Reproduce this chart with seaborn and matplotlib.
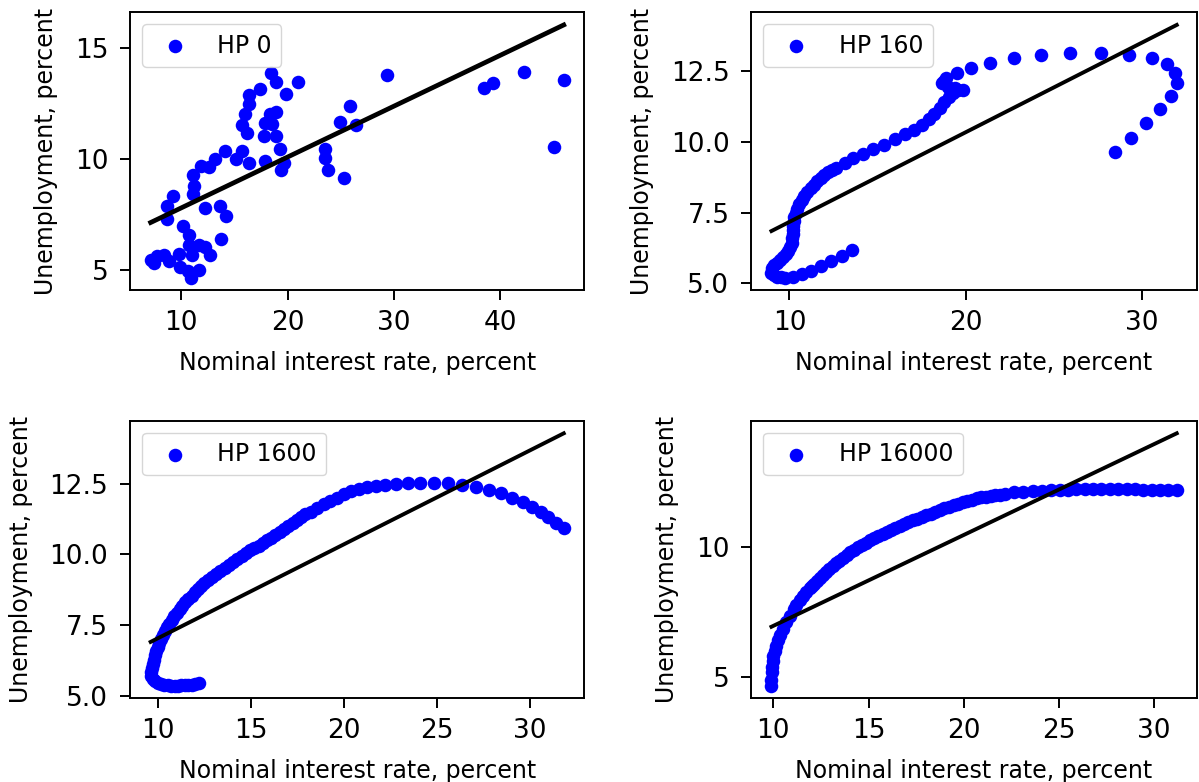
import matplotlib
matplotlib.use("Agg")
import matplotlib.pyplot as plt
import seaborn as sns
import numpy as np
from matplotlib.ticker import MultipleLocator

# ---------------- data ----------------
labels = ["HP 0", "HP 160", "HP 1600", "HP 16000"]

hp0_rate = [18.44, 18.89, 20.98, 17.42, 16.42, 19.89, 16.39, 16.04, 18.93, 18.35,
            15.69, 17.93, 18.50, 16.17, 17.75, 18.93, 19.26, 14.15, 15.69, 15.18,
            16.42, 17.90, 19.70, 19.41, 13.19, 12.62, 11.85, 11.15, 11.20, 11.15,
            9.20, 8.66, 8.66, 12.22, 13.63, 14.24, 10.17, 10.72, 13.70, 10.72,
            11.71, 12.26, 12.68, 10.98, 9.76, 8.41, 7.77, 7.13, 7.45, 8.89,
            9.91, 10.65, 10.91, 11.71, 29.35, 25.91, 24.92, 26.46, 23.54, 23.54,
            23.83, 25.27, 38.44, 39.34, 42.27, 45.98, 45.03]
hp0_unemp = [13.86, 13.45, 13.49, 13.16, 12.88, 12.91, 12.47, 12.01, 12.13, 12.01,
             11.55, 11.63, 11.58, 11.17, 11.02, 11.02, 10.46, 10.38, 10.36, 10.00,
             9.83, 9.92, 9.83, 9.50, 10.00, 9.63, 9.68, 9.30, 8.78, 8.43,
             8.32, 7.87, 7.32, 7.81, 7.87, 7.44, 6.99, 6.60, 6.42, 6.15,
             6.15, 6.04, 5.66, 5.66, 5.74, 5.66, 5.62, 5.46, 5.31, 5.39,
             5.16, 4.98, 4.66, 5.00, 13.77, 12.39, 11.67, 11.52, 10.46, 10.06,
             9.51, 9.15, 13.22, 13.44, 13.91, 13.56, 10.55]

hp160_rate = [28.47, 29.36, 30.22, 31.03, 31.64, 31.98, 31.88, 31.45, 30.55, 29.27,
              27.66, 25.94, 24.27, 22.72, 21.39, 20.31, 19.52, 18.91, 18.63, 18.75,
              19.00, 19.40, 19.14, 19.56, 19.86, 19.29, 19.04, 18.80, 18.53, 18.23,
              17.91, 17.53, 17.05, 16.58, 16.00, 15.37, 14.77, 14.18, 13.63, 13.16,
              12.66, 12.42, 12.19, 11.98, 11.77, 11.58, 11.39, 11.20, 11.01, 10.85,
              10.69, 10.55, 10.44, 10.35, 10.27, 10.24, 10.22, 10.21, 10.20, 10.17,
              10.12, 10.05, 9.93, 9.80, 9.62, 9.45, 9.30, 9.15, 9.02, 8.98,
              9.10, 9.30, 9.50, 9.74, 10.20, 10.69, 11.24, 11.77, 12.34, 12.97, 13.57]
hp160_unemp = [9.64, 10.14, 10.65, 11.14, 11.61, 12.06, 12.44, 12.73, 12.95, 13.07,
               13.12, 13.12, 13.07, 12.95, 12.78, 12.60, 12.42, 12.27, 12.06, 12.15,
               11.95, 11.90, 11.87, 11.82, 11.84, 11.72, 11.58, 11.40, 11.20, 10.98,
               10.80, 10.60, 10.42, 10.27, 10.10, 9.90, 9.75, 9.57, 9.42, 9.24,
               9.09, 9.00, 8.92, 8.83, 8.73, 8.62, 8.49, 8.37, 8.23, 8.10,
               7.93, 7.80, 7.63, 7.50, 7.34, 7.20, 7.04, 6.90, 6.74, 6.60,
               6.44, 6.30, 6.14, 6.03, 5.92, 5.82, 5.72, 5.63, 5.54, 5.36,
               5.30, 5.24, 5.22, 5.20, 5.24, 5.34, 5.44, 5.60, 5.78, 5.96, 6.16]

hp1600_rate = [12.19, 11.95, 11.79, 11.60, 11.42, 11.24, 11.06, 10.88, 10.69, 10.51,
               10.33, 10.15, 9.96, 9.81, 9.69, 9.62, 9.59, 9.64, 9.69, 9.75,
               9.81, 9.88, 9.96, 10.05, 10.14, 10.25, 10.36, 10.48, 10.60, 10.73,
               10.87, 11.00, 11.15, 11.30, 11.46, 11.62, 11.79, 11.95, 12.12, 12.30,
               12.48, 12.68, 12.88, 13.11, 13.34, 13.57, 13.80, 14.02, 14.25, 14.48,
               14.71, 14.94, 15.17, 15.40, 15.62, 15.85, 16.08, 16.30, 16.53, 16.76,
               16.99, 17.22, 17.45, 17.68, 17.90, 18.20, 18.56, 18.93, 19.26, 19.62,
               19.98, 20.39, 20.79, 21.22, 21.70, 22.21, 22.78, 23.42, 24.10, 24.83,
               25.59, 26.34, 27.07, 27.79, 28.46, 29.05, 29.62, 30.10, 30.56, 30.97,
               31.40, 31.81]
hp1600_unemp = [5.43, 5.40, 5.38, 5.37, 5.37, 5.36, 5.35, 5.35, 5.35, 5.36,
                5.37, 5.40, 5.44, 5.50, 5.58, 5.70, 5.82, 5.97, 6.12, 6.27,
                6.42, 6.57, 6.71, 6.86, 7.01, 7.14, 7.27, 7.41, 7.55, 7.68,
                7.81, 7.94, 8.06, 8.18, 8.30, 8.42, 8.54, 8.66, 8.77, 8.88,
                8.98, 9.09, 9.20, 9.31, 9.42, 9.53, 9.63, 9.74, 9.84, 9.95,
                10.05, 10.14, 10.22, 10.31, 10.40, 10.49, 10.58, 10.69, 10.79, 10.90,
                11.00, 11.10, 11.20, 11.31, 11.42, 11.50, 11.63, 11.77, 11.89, 12.01,
                12.13, 12.23, 12.30, 12.37, 12.43, 12.46, 12.49, 12.51, 12.54, 12.54,
                12.51, 12.46, 12.39, 12.27, 12.17, 12.01, 11.86, 11.68, 11.50, 11.32,
                11.12, 10.94]

hp16000_rate = [9.90, 9.90, 9.91, 9.93, 9.96, 10.00, 10.06, 10.14, 10.24, 10.37,
                10.52, 10.69, 10.88, 11.09, 11.21, 11.40, 11.57, 11.74, 11.91, 12.02,
                12.13, 12.28, 12.44, 12.60, 12.77, 12.94, 13.11, 13.29, 13.47, 13.66,
                13.85, 14.05, 14.25, 14.45, 14.66, 14.87,
                15.08, 15.30, 15.52, 15.74, 15.96, 16.18, 16.41, 16.64, 16.87, 17.10,
                17.33, 17.56, 17.80, 18.03, 18.27, 18.51, 18.75, 18.99, 19.23, 19.47,
                19.71, 19.95, 20.20, 20.44, 20.69, 20.93, 21.18, 21.42, 21.67, 21.91,
                22.16, 22.65, 23.14, 23.63, 24.12, 24.60, 25.04, 25.48, 25.92, 26.36,
                26.80, 27.24, 27.68, 28.12, 28.56, 29.00, 29.44, 29.88, 30.32, 30.76,
                31.20]
hp16000_unemp = [4.67, 4.90, 5.18, 5.40, 5.62, 5.82, 6.00, 6.20, 6.42, 6.63,
                 6.86, 7.11, 7.35, 7.61, 7.76, 7.95, 8.12, 8.27, 8.40, 8.48,
                 8.56, 8.68, 8.79, 8.92, 9.04, 9.15, 9.26, 9.37, 9.47, 9.58,
                 9.69, 9.79, 9.88, 9.97, 10.06, 10.16,
                 10.25, 10.34, 10.42, 10.50, 10.58, 10.66, 10.73, 10.80, 10.87, 10.94,
                 11.01, 11.08, 11.14, 11.20, 11.27, 11.34, 11.41, 11.47, 11.53, 11.59,
                 11.64, 11.70, 11.76, 11.81, 11.85, 11.89, 11.92, 11.95, 11.98, 12.00,
                 12.03, 12.08, 12.11, 12.13, 12.15, 12.17, 12.18, 12.19, 12.20, 12.20,
                 12.20, 12.20, 12.20, 12.20, 12.20, 12.20, 12.19, 12.19, 12.19, 12.18,
                 12.18]

# least-squares line: unemployment = intercept + slope * rate
fit_slope = [0.229, 0.3165, 0.3323, 0.3483]
fit_intercept = [5.51, 4.005, 3.713, 3.482]

x_tick_step = [10, 10, 5, 5]
y_tick_step = [5, 2.5, 2.5, 5]

series = [(hp0_rate, hp0_unemp), (hp160_rate, hp160_unemp),
          (hp1600_rate, hp1600_unemp), (hp16000_rate, hp16000_unemp)]

# ---------------- figure ----------------
W, H = 1199, 782
fig = plt.figure(figsize=(W / 100, H / 100), dpi=100)

def frac(l, t, r, b):
    return [l / W, 1 - b / H, (r - l) / W, (b - t) / H]

boxes = [frac(130, 12.3, 584.4, 290.3), frac(751.2, 12.3, 1197, 290.3),
         frac(130, 420.7, 584.4, 698.3), frac(751.2, 420.7, 1197, 698.3)]
line_w = [3.4, 2.8, 2.8, 2.8]

for i, (xs, ys) in enumerate(series):
    ax = fig.add_axes(boxes[i])
    sns.scatterplot(x=xs, y=ys, ax=ax, color="blue", s=95, linewidth=0,
                    label=labels[i], legend=False)
    xr = np.array([min(xs), max(xs)])
    sns.lineplot(x=xr, y=fit_intercept[i] + fit_slope[i] * xr, ax=ax,
                 color="black", lw=line_w[i])
    ax.xaxis.set_major_locator(MultipleLocator(x_tick_step[i]))
    ax.yaxis.set_major_locator(MultipleLocator(y_tick_step[i]))
    ax.tick_params(labelsize=19, length=7.2, width=1.4, colors="black")
    ax.tick_params(axis="x", pad=7.0)
    ax.tick_params(axis="y", pad=8.5)
    for sp in ax.spines.values():
        sp.set_linewidth(1.4)
        sp.set_color("black")
    ax.set_xlabel("Nominal interest rate, percent", fontsize=17, labelpad=11)
    ax.set_ylabel("Unemployment, percent", fontsize=17, labelpad=12)
    ax.legend(loc="upper left", fontsize=17, frameon=True, fancybox=True,
              edgecolor="0.8", framealpha=0.8)

fig.savefig("out.png", dpi=100)
